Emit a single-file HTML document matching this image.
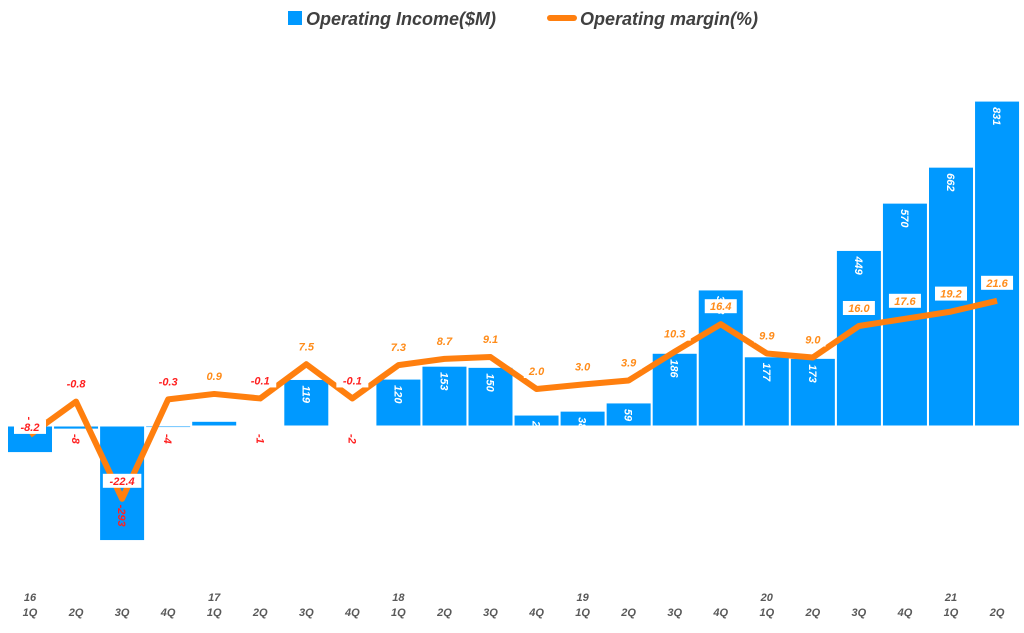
<!DOCTYPE html>
<html><head><meta charset="utf-8"><style>
body{margin:0;background:#fff;}
svg text{font-family:"Liberation Sans",sans-serif;}
</style></head><body>
<svg id="chart" width="1024" height="628" xmlns="http://www.w3.org/2000/svg">
<g>
<rect x="288" y="11" width="14" height="14" fill="#0099ff"/>
<text x="306" y="25" font-size="18" font-weight="bold" font-style="italic" fill="#404040">Operating Income($M)</text>
<line x1="550" y1="18" x2="574" y2="18" stroke="#ff7f0e" stroke-width="6" stroke-linecap="round"/>
<text x="580" y="25" font-size="18" font-weight="bold" font-style="italic" fill="#404040">Operating margin(%)</text>
</g>
<g id="bars"></g><g id="line"></g><g id="labels"></g><g id="xaxis"></g>
</svg>
<script>
const years=["16","","","","17","","","","18","","","","19","","","","20","","","","21",""];
const quarters=["1Q","2Q","3Q","4Q","1Q","2Q","3Q","4Q","1Q","2Q","3Q","4Q","1Q","2Q","3Q","4Q","1Q","2Q","3Q","4Q","1Q","2Q"];
const income=[-68,-8,-293,-4,12,-1,119,-2,120,153,150,28,38,59,186,348,177,173,449,570,662,831];
const margin=[-8.2,-0.8,-22.4,-0.3,0.9,-0.1,7.5,-0.1,7.3,8.7,9.1,2.0,3.0,3.9,10.3,16.4,9.9,9.0,16.0,17.6,19.2,21.6];
const NS="http://www.w3.org/2000/svg";
const x0=30,step=46.05,bw=45;
const xc=i=>x0+i*step;
const yB=v=>426-v*0.391;
const yM=v=>398-v*4.5;
function mk(tag,attrs,parent){const e=document.createElementNS(NS,tag);for(const k in attrs)e.setAttribute(k,attrs[k]);document.getElementById(parent).appendChild(e);return e;}
income.forEach((v,i)=>{
  const r=mk('rect',{x:xc(i)-bw/2,y:Math.min(yB(v),yB(0)),width:bw,height:Math.max(1,Math.abs(yB(v)-yB(0))),fill:'#0099ff',stroke:'#ffffff','stroke-width':1},'bars');
  
  
  if(i===4)return;
  const neg=v<0;
  const ty=neg?yB(v)-(v<-50?36:-6):yB(v)+6;
  const t=mk('text',{x:0,y:0,transform:`translate(${xc(i)-4},${neg&&v>-50?yB(0)+8:ty}) rotate(90)`,'font-size':11,'font-weight':'bold','font-style':'italic',fill:neg?'#ff2020':'#ffffff'},'labels');
  t.textContent=v;
  
  
});
const pl=mk('polyline',{points:margin.map((v,i)=>xc(i)+','+yM(v)).join(' '),fill:'none',stroke:'#ff7f0e','stroke-width':6,'stroke-linejoin':'round'},'line');


margin.forEach((v,i)=>{
  const s=v.toFixed(1);const w=s.length*6.5+6;
  const yy=yM(v)-(i===0?8:18);
  const b=mk('rect',{x:xc(i)-w/2,y:yy-7,width:w,height:14,fill:'#ffffff'},'labels');
  
  
  const t=mk('text',{x:xc(i),y:yy+4,'text-anchor':'middle','font-size':11,'font-weight':'bold','font-style':'italic',fill:v<0?'#ff2020':'#ff8c1a'},'labels');
  t.textContent=s;
  
  
});
quarters.forEach((q,i)=>{
  const t=mk('text',{x:xc(i),y:616,'text-anchor':'middle','font-size':11,'font-weight':'bold','font-style':'italic',fill:'#595959'},'xaxis');
  t.textContent=q;
  
  
  if(years[i]){
    const y=mk('text',{x:xc(i),y:601,'text-anchor':'middle','font-size':11,'font-weight':'bold','font-style':'italic',fill:'#595959'},'xaxis');
    y.textContent=years[i];
    
    
  }
});
</script>
</body></html>
